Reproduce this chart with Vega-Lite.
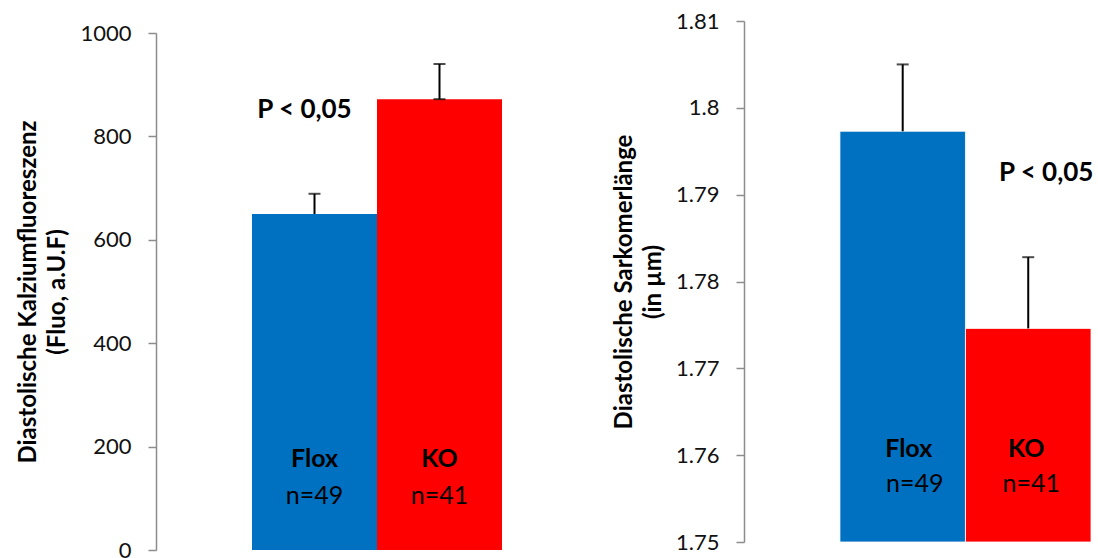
{
  "$schema": "https://vega.github.io/schema/vega-lite/v6.json",
  "padding": {"left": 16, "top": 10, "right": 0, "bottom": 0},
  "background": "white",
  "config": {
    "view": {"stroke": null},
    "font": "Lato",
    "axis": {
      "grid": false,
      "domainColor": "#8c8c8c",
      "domainWidth": 1.5,
      "tickColor": "#8c8c8c",
      "tickWidth": 1.5,
      "tickSize": 8,
      "labelFont": "Lato",
      "labelFontSize": 22,
      "labelColor": "#111111",
      "labelPadding": 17,
      "titleFont": "Lato",
      "titleFontSize": 24,
      "titleFontWeight": "bold",
      "titleColor": "#000000",
      "titleLineHeight": 29,
      "titlePadding": 10
    }
  },
  "datasets": {
    "calcium": [
      {"group": "Flox", "mean": 650, "upper": 689, "n": 49},
      {"group": "KO", "mean": 872, "upper": 940, "n": 41}
    ],
    "sarcomere": [
      {"group": "Flox", "mean": 1.7973, "upper": 1.805, "n": 49},
      {"group": "KO", "mean": 1.7746, "upper": 1.7828, "n": 41}
    ]
  },
  "spacing": 14,
  "hconcat": [
    {
      "width": 442,
      "height": 529,
      "data": {"name": "calcium"},
      "transform": [{"calculate": "'n=' + datum.n", "as": "nLabel"}],
      "encoding": {
        "x": {
          "field": "group",
          "type": "nominal",
          "sort": ["Flox", "KO"],
          "scale": {"paddingInner": 0, "paddingOuter": 0.768},
          "axis": null
        }
      },
      "layer": [
        {
          "mark": {"type": "bar"},
          "encoding": {
            "y": {
              "field": "mean",
              "type": "quantitative",
              "scale": {"domain": [0, 1000], "range": [529, 12], "nice": false, "zero": true},
              "axis": {
                "values": [0, 200, 400, 600, 800, 1000],
                "format": "d",
                "title": ["Diastolische Kalziumfluoreszenz", "(Fluo, a.U.F)"]
              }
            },
            "y2": {"datum": 0},
            "color": {
              "field": "group",
              "type": "nominal",
              "scale": {"domain": ["Flox", "KO"], "range": ["#0070C0", "#FF0000"]},
              "legend": null
            }
          }
        },
        {
          "mark": {"type": "rule", "color": "#000000", "strokeWidth": 2},
          "encoding": {
            "y": {"field": "mean", "type": "quantitative"},
            "y2": {"field": "upper"}
          }
        },
        {
          "mark": {"type": "tick", "color": "#000000", "thickness": 2, "size": 12},
          "encoding": {"y": {"field": "upper", "type": "quantitative"}}
        },
        {
          "transform": [{"filter": "datum.group === 'KO'"}],
          "mark": {"type": "tick", "color": "#000000", "thickness": 2, "size": 12},
          "encoding": {"y": {"field": "mean", "type": "quantitative"}}
        },
        {
          "mark": {"type": "text", "fontSize": 25, "fontWeight": "bold", "color": "#000000", "baseline": "alphabetic", "align": "center"},
          "encoding": {"y": {"datum": 160}, "text": {"field": "group"}}
        },
        {
          "mark": {"type": "text", "fontSize": 25, "color": "#000000", "baseline": "alphabetic", "align": "center"},
          "encoding": {"y": {"datum": 89}, "text": {"field": "nLabel"}}
        },
        {
          "data": {"values": [{"group": "Flox", "label": "P < 0,05"}]},
          "mark": {"type": "text", "fontSize": 26, "fontWeight": "bold", "color": "#000000", "baseline": "alphabetic", "align": "center", "dx": -10},
          "encoding": {"y": {"datum": 836}, "text": {"field": "label"}}
        }
      ]
    },
    {
      "width": 351,
      "height": 529,
      "data": {"name": "sarcomere"},
      "transform": [{"calculate": "'n=' + datum.n", "as": "nLabel"}],
      "encoding": {
        "x": {
          "field": "group",
          "type": "nominal",
          "sort": ["Flox", "KO"],
          "scale": {"paddingInner": 0, "paddingOuter": 0.398, "align": 0.96},
          "axis": null
        }
      },
      "layer": [
        {
          "mark": {"type": "bar", "stroke": "#ffffff", "strokeWidth": 0.8},
          "encoding": {
            "y": {
              "field": "mean",
              "type": "quantitative",
              "scale": {"domain": [1.75, 1.81], "range": [521, 0], "nice": false, "zero": false},
              "axis": {
                "values": [1.75, 1.76, 1.77, 1.78, 1.79, 1.8, 1.81],
                "format": ".3~g",
                "title": ["Diastolische Sarkomerlänge", "(in µm)"]
              }
            },
            "y2": {"datum": 1.75},
            "color": {
              "field": "group",
              "type": "nominal",
              "scale": {"domain": ["Flox", "KO"], "range": ["#0070C0", "#FF0000"]},
              "legend": null
            }
          }
        },
        {
          "mark": {"type": "rule", "color": "#000000", "strokeWidth": 2},
          "encoding": {
            "y": {"field": "mean", "type": "quantitative"},
            "y2": {"field": "upper"}
          }
        },
        {
          "mark": {"type": "tick", "color": "#000000", "thickness": 2, "size": 12},
          "encoding": {"y": {"field": "upper", "type": "quantitative"}}
        },
        {
          "transform": [{"filter": "datum.group === 'Flox'"}],
          "mark": {"type": "text", "fontSize": 25, "fontWeight": "bold", "color": "#000000", "baseline": "alphabetic", "align": "center", "dx": 6},
          "encoding": {"y": {"datum": 1.7598}, "text": {"field": "group"}}
        },
        {
          "transform": [{"filter": "datum.group === 'Flox'"}],
          "mark": {"type": "text", "fontSize": 25, "color": "#000000", "baseline": "alphabetic", "align": "center", "dx": 12},
          "encoding": {"y": {"datum": 1.7558}, "text": {"field": "nLabel"}}
        },
        {
          "transform": [{"filter": "datum.group === 'KO'"}],
          "mark": {"type": "text", "fontSize": 25, "fontWeight": "bold", "color": "#000000", "baseline": "alphabetic", "align": "center", "dx": -2},
          "encoding": {"y": {"datum": 1.7598}, "text": {"field": "group"}}
        },
        {
          "transform": [{"filter": "datum.group === 'KO'"}],
          "mark": {"type": "text", "fontSize": 25, "color": "#000000", "baseline": "alphabetic", "align": "center", "dx": 3},
          "encoding": {"y": {"datum": 1.7558}, "text": {"field": "nLabel"}}
        },
        {
          "data": {"values": [{"group": "KO", "label": "P < 0,05"}]},
          "mark": {"type": "text", "fontSize": 26, "fontWeight": "bold", "color": "#000000", "baseline": "alphabetic", "align": "center", "dx": 18},
          "encoding": {"y": {"datum": 1.7916}, "text": {"field": "label"}}
        }
      ]
    }
  ]
}
